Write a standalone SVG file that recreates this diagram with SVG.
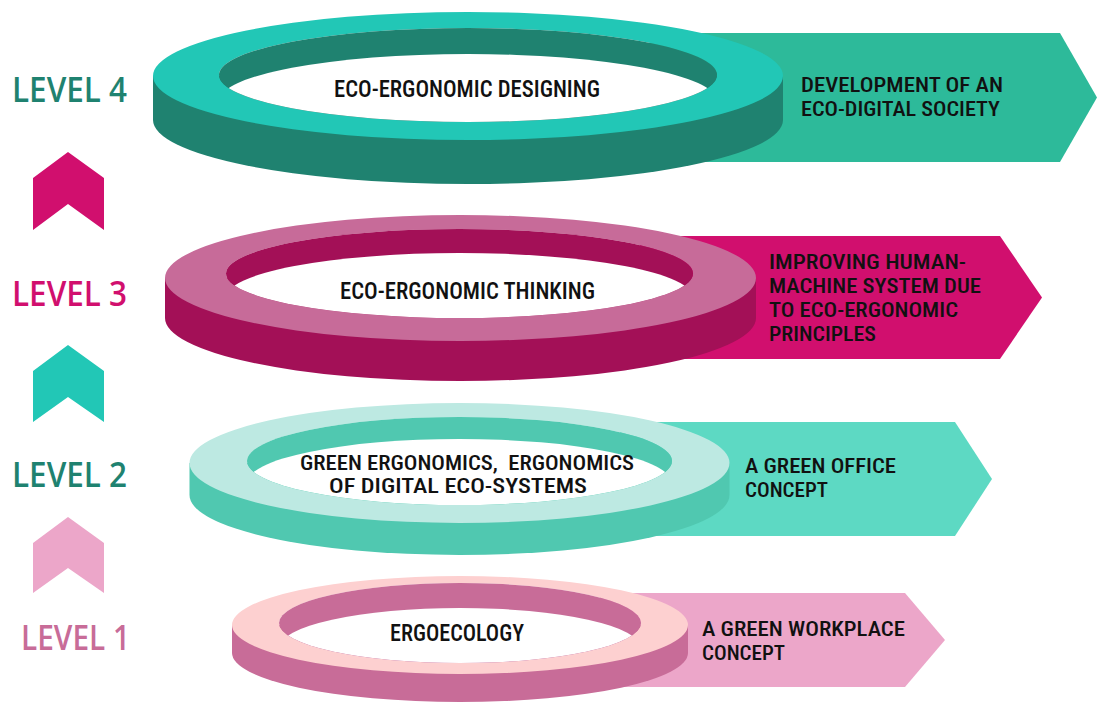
<svg xmlns="http://www.w3.org/2000/svg" width="1097" height="702" viewBox="0 0 1097 702">
  <style>
    .lvl { font-family: "Open Sans", "Noto Sans", sans-serif; font-weight: 600; font-size: 33.5px; }
    .t { font-family: "Roboto Condensed", "DejaVu Sans Condensed", "Liberation Sans Narrow", sans-serif; font-weight: 500; font-size: 23.5px; fill: #111; white-space: pre; }
    .ml { font-size: 20.5px; }
    .mid { text-anchor: middle; }
    .hole { fill: #ffffff; }
  </style>
  <defs>
    <clipPath id="clip4"><ellipse cx="468" cy="75" rx="249" ry="47"/></clipPath>
    <clipPath id="clip3"><ellipse cx="459.5" cy="273.5" rx="233.5" ry="44.5"/></clipPath>
    <clipPath id="clip2"><ellipse cx="459.5" cy="461" rx="212.5" ry="44"/></clipPath>
    <clipPath id="clip1"><ellipse cx="460" cy="623" rx="181" ry="40"/></clipPath>
  </defs>

  <rect width="1097" height="702" fill="#ffffff"/>

  <!-- level labels -->
  <g id="labels">
    <text class="lvl" x="12" y="102" fill="#1f8270" textLength="115" lengthAdjust="spacingAndGlyphs">LEVEL 4</text>
    <text class="lvl" x="12" y="306" fill="#d10f6e" textLength="115" lengthAdjust="spacingAndGlyphs">LEVEL 3</text>
    <text class="lvl" x="12" y="487" fill="#1f8270" textLength="115" lengthAdjust="spacingAndGlyphs">LEVEL 2</text>
    <text class="lvl" x="21" y="650" fill="#c86c98" textLength="109" lengthAdjust="spacingAndGlyphs">LEVEL 1</text>
  </g>

  <!-- upward chevrons between levels -->
  <g id="connectors">
    <polygon points="33,178 68,152 104,178 104,230 68,204 33,230" fill="#d10f6e"/>
    <polygon points="33,371 68,345 104,371 104,422 68,397 33,422" fill="#22c7b6"/>
    <polygon points="33,543 68,517 104,543 104,593 68,568 33,593" fill="#eca6c9"/>
  </g>

  <!-- level 4 -->
  <g id="level4">
    <polygon points="650,33 1060,33 1097,97.5 1060,162 650,162" fill="#2dba9a"/>
    <path d="M153,76 L153,120 A315,64 0 0 0 783,120 L783,76 Z" fill="#1f8270"/>
    <path d="M153,76 A315,64 0 1 1 783,76 A315,64 0 1 1 153,76 Z M219,75 A249,47 0 1 0 717,75 A249,47 0 1 0 219,75 Z" fill="#22c7b6" fill-rule="evenodd"/>
    <ellipse cx="468" cy="75" rx="249" ry="47" fill="#1f8270"/>
    <ellipse class="hole" cx="468" cy="101" rx="249" ry="47" clip-path="url(#clip4)"/>
    <text class="t mid" x="467" y="97" textLength="266" lengthAdjust="spacingAndGlyphs">ECO-ERGONOMIC DESIGNING</text>
    <text class="t ml" x="801" y="92" textLength="202" lengthAdjust="spacingAndGlyphs">DEVELOPMENT OF AN</text>
    <text class="t ml" x="801" y="116" textLength="199" lengthAdjust="spacingAndGlyphs">ECO-DIGITAL SOCIETY</text>
  </g>

  <!-- level 3 -->
  <g id="level3">
    <polygon points="640,236 1000,236 1042,297.5 1000,359 640,359" fill="#d10f6e"/>
    <path d="M165,278 L165,318 A295.5,63 0 0 0 756,318 L756,278 Z" fill="#a31057"/>
    <path d="M165,278 A295.5,63 0 1 1 756,278 A295.5,63 0 1 1 165,278 Z M226,273.5 A233.5,44.5 0 1 0 693,273.5 A233.5,44.5 0 1 0 226,273.5 Z" fill="#c76b99" fill-rule="evenodd"/>
    <ellipse cx="459.5" cy="273.5" rx="233.5" ry="44.5" fill="#a31057"/>
    <ellipse class="hole" cx="459.5" cy="297.5" rx="233.5" ry="44.5" clip-path="url(#clip3)"/>
    <text class="t mid" x="467.5" y="299" textLength="255" lengthAdjust="spacingAndGlyphs">ECO-ERGONOMIC THINKING</text>
    <text class="t ml" x="769" y="269" textLength="197" lengthAdjust="spacingAndGlyphs">IMPROVING HUMAN-</text>
    <text class="t ml" x="769" y="293" textLength="212" lengthAdjust="spacingAndGlyphs">MACHINE SYSTEM DUE</text>
    <text class="t ml" x="769" y="317" textLength="189" lengthAdjust="spacingAndGlyphs">TO ECO-ERGONOMIC</text>
    <text class="t ml" x="769" y="341" textLength="107" lengthAdjust="spacingAndGlyphs">PRINCIPLES</text>
  </g>

  <!-- level 2 -->
  <g id="level2">
    <polygon points="620,422 955,422 992,479 955,536 620,536" fill="#5dd9c3"/>
    <path d="M189.5,463 L189.5,495 A270,60 0 0 0 729.5,495 L729.5,463 Z" fill="#50c8b0"/>
    <path d="M189.5,463 A270,60 0 1 1 729.5,463 A270,60 0 1 1 189.5,463 Z M247,461 A212.5,44 0 1 0 672,461 A212.5,44 0 1 0 247,461 Z" fill="#bde9e2" fill-rule="evenodd"/>
    <ellipse cx="459.5" cy="461" rx="212.5" ry="44" fill="#50c8b0"/>
    <ellipse class="hole" cx="459.5" cy="483" rx="212.5" ry="44" clip-path="url(#clip2)"/>
    <text class="t ml mid" x="467" y="470" textLength="334" lengthAdjust="spacingAndGlyphs" xml:space="preserve">GREEN ERGONOMICS,  ERGONOMICS</text>
    <text class="t ml mid" x="458" y="493" textLength="258" lengthAdjust="spacingAndGlyphs">OF DIGITAL ECO-SYSTEMS</text>
    <text class="t ml" x="745" y="473" textLength="151" lengthAdjust="spacingAndGlyphs">A GREEN OFFICE</text>
    <text class="t ml" x="745" y="497" textLength="83" lengthAdjust="spacingAndGlyphs">CONCEPT</text>
  </g>

  <!-- level 1 -->
  <g id="level1">
    <polygon points="600,593 905,593 945,640 905,687 600,687" fill="#eca6c9"/>
    <path d="M232,625 L232,653 A228,49 0 0 0 688,653 L688,625 Z" fill="#c86c98"/>
    <path d="M232,625 A228,49 0 1 1 688,625 A228,49 0 1 1 232,625 Z M279,623 A181,40 0 1 0 641,623 A181,40 0 1 0 279,623 Z" fill="#fdd0d0" fill-rule="evenodd"/>
    <ellipse cx="460" cy="623" rx="181" ry="40" fill="#c86c98"/>
    <ellipse class="hole" cx="460" cy="648" rx="181" ry="40" clip-path="url(#clip1)"/>
    <text class="t mid" x="457" y="641" textLength="134" lengthAdjust="spacingAndGlyphs">ERGOECOLOGY</text>
    <text class="t ml" x="702" y="636" textLength="203" lengthAdjust="spacingAndGlyphs">A GREEN WORKPLACE</text>
    <text class="t ml" x="702" y="660" textLength="83" lengthAdjust="spacingAndGlyphs">CONCEPT</text>
  </g>
</svg>
